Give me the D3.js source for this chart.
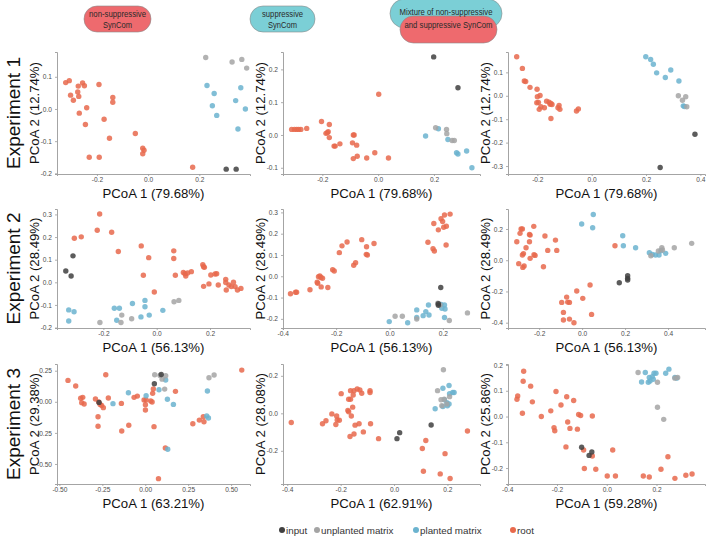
<!DOCTYPE html>
<html><head><meta charset="utf-8">
<script src="https://cdn.jsdelivr.net/npm/d3@7"></script>
<style>body{margin:0;background:#fff}svg{display:block;font-family:"Liberation Sans",Arial,sans-serif}</style>
</head><body>
<svg id="chart" width="706" height="541"></svg>
<script>
// ---------- categories / labels ----------
const groups = ["input", "unplanted matrix", "planted matrix", "root"];
const groupColors = ["#404040", "#a4a4a4", "#6bb3cf", "#e8694c"];
const experiments = ["Experiment 1", "Experiment 2", "Experiment 3"];
const xTitles = [
  ["PCoA 1 (79.68%)", "PCoA 1 (79.68%)", "PCoA 1 (79.68%)"],
  ["PCoA 1 (56.13%)", "PCoA 1 (56.13%)", "PCoA 1 (56.13%)"],
  ["PCoA 1 (63.21%)", "PCoA 1 (62.91%)", "PCoA 1 (59.28%)"]
];
const yTitles = [
  ["PCoA 2 (12.74%)", "PCoA 2 (12.74%)", "PCoA 2 (12.74%)"],
  ["PCoA 2 (28.49%)", "PCoA 2 (28.49%)", "PCoA 2 (28.49%)"],
  ["PCoA 2 (29.38%)", "PCoA 2 (28.08%)", "PCoA 2 (25.86%)"]
];

// ---------- tick labels / axis extents ----------
const xTicksA = [-0.2, 0, 0.2], yTicksA = [-0.2, -0.1, 0, 0.1];
const xTicksB = [-0.2, 0, 0.2], yTicksB = [-0.1, 0, 0.1, 0.2];
const xTicksC = [-0.2, 0, 0.2, 0.4], yTicksC = [-0.3, -0.2, -0.1, 0, 0.1];
const xTicksD = [-0.2, 0, 0.2], yTicksD = [-0.2, -0.1, 0, 0.1, 0.2, 0.3];
const xTicksE = [-0.4, -0.2, 0, 0.2], yTicksE = [-0.2, -0.1, 0, 0.1, 0.2, 0.3];
const xTicksF = [-0.2, 0, 0.2, 0.4], yTicksF = [-0.4, -0.2, 0, 0.2];
const xTicksG = [-0.5, -0.25, 0, 0.25, 0.5], yTicksG = [-0.5, -0.25, 0, 0.25];
const xTicksH = [-0.4, -0.2, 0, 0.2], yTicksH = [-0.2, 0, 0.2];
const xTicksI = [-0.4, -0.2, 0, 0.2], yTicksI = [-0.2, -0.1, 0, 0.1, 0.2];

const xDomA = [-0.356, 0.398], yDomA = [-0.202, 0.177];
const xDomB = [-0.341, 0.365], yDomB = [-0.119, 0.253];
const xDomC = [-0.308, 0.417], yDomC = [-0.334, 0.187];
const xDomD = [-0.374, 0.350], yDomD = [-0.202, 0.324];
const xDomE = [-0.399, 0.339], yDomE = [-0.243, 0.316];
const xDomF = [-0.345, 0.572], yDomF = [-0.434, 0.328];
const xDomG = [-0.514, 0.610], yDomG = [-0.661, 0.304];
const xDomH = [-0.416, 0.322], yDomH = [-0.377, 0.263];
const xDomI = [-0.397, 0.395], yDomI = [-0.262, 0.204];

// ---------- data: Experiment 1 ----------
const rootA = [[-0.322,0.082],[-0.308,0.088],[-0.303,0.043],[-0.292,0.027],[-0.273,0.071],[-0.275,0.053],[-0.271,0.039],[-0.256,0.081],[-0.249,0.072],[-0.269,-0.013],[-0.240,0.004],[-0.245,-0.048],[-0.192,0.076],[-0.172,-0.032],[-0.138,0.036],[-0.138,0.021],[-0.151,-0.091],[-0.230,-0.150],[-0.191,-0.150],[-0.050,-0.076],[-0.021,-0.122],[-0.016,-0.128],[-0.021,-0.139],[0.174,-0.181]];
const plantedA = [[0.230,0.073],[0.258,0.048],[0.251,0.010],[0.268,-0.020],[0.362,0.066],[0.342,0.026],[0.380,0.000],[0.351,-0.062]];
const unplantedA = [[0.225,0.160],[0.328,0.146],[0.366,0.154],[0.385,0.127]];
const inputA = [[0.305,-0.187],[0.344,-0.187]];

const rootB = [[-0.310,0.017],[-0.300,0.017],[-0.292,0.017],[-0.285,0.017],[-0.277,0.017],[-0.256,0.020],[-0.203,0.041],[-0.175,0.032],[-0.187,0.005],[-0.179,0.010],[-0.182,0.007],[-0.175,-0.008],[-0.158,-0.034],[-0.154,-0.034],[-0.137,-0.027],[-0.089,0.000],[-0.086,0.000],[-0.092,-0.024],[-0.077,-0.031],[-0.075,-0.065],[-0.089,-0.072],[-0.041,-0.070],[-0.012,-0.054],[0.002,0.124],[0.037,-0.070]];
const plantedB = [[0.170,-0.003],[0.216,0.019],[0.250,-0.014],[0.281,-0.054],[0.286,-0.058],[0.317,-0.049],[0.336,-0.100]];
const unplantedB = [[0.206,0.022],[0.245,0.017],[0.246,0.004],[0.265,-0.017],[0.273,-0.017]];
const inputB = [[0.199,0.238],[0.286,0.144]];

const rootC = [[-0.276,0.167],[-0.255,0.117],[-0.248,0.063],[-0.243,0.061],[-0.227,0.036],[-0.201,0.028],[-0.190,0.001],[-0.200,-0.004],[-0.196,-0.028],[-0.202,-0.030],[-0.187,-0.047],[-0.193,-0.058],[-0.174,-0.051],[-0.166,-0.023],[-0.157,-0.027],[-0.153,-0.036],[-0.150,-0.033],[-0.146,-0.037],[-0.120,-0.041],[-0.124,-0.051],[-0.117,-0.058],[-0.150,-0.097],[-0.056,-0.065],[-0.049,-0.056]];
const plantedC = [[0.199,0.167],[0.217,0.155],[0.227,0.135],[0.239,0.098],[0.271,0.078],[0.291,0.110],[0.321,0.063],[0.337,-0.043],[0.341,-0.046]];
const unplantedC = [[0.319,0.000],[0.334,-0.019],[0.346,-0.004],[0.350,-0.047]];
const inputC = [[0.252,-0.306],[0.380,-0.164]];

// ---------- data: Experiment 2 ----------
const rootD = [[-0.214,0.302],[-0.223,0.230],[-0.169,0.221],[-0.283,0.201],[-0.309,0.195],[-0.144,0.136],[-0.058,0.161],[-0.030,0.109],[-0.050,0.031],[0.064,0.139],[0.064,0.105],[0.070,0.031],[-0.009,-0.043],[0.100,0.043],[0.106,0.038],[0.109,0.028],[0.116,0.041],[0.130,0.047],[0.173,0.078],[0.176,0.069],[0.179,0.066],[0.203,0.032],[0.219,0.037],[0.225,0.038],[0.176,-0.018],[0.196,-0.007],[0.231,-0.012],[0.259,0.013],[0.259,-0.001],[0.261,-0.034],[0.271,-0.012],[0.280,-0.019],[0.288,0.000],[0.294,-0.019],[0.303,-0.034],[0.316,-0.027]];
const plantedD = [[-0.330,-0.122],[-0.310,-0.130],[-0.330,-0.171],[-0.159,-0.115],[-0.140,-0.115],[-0.150,-0.168],[-0.091,-0.094],[-0.044,-0.080],[-0.044,-0.108],[-0.059,-0.153],[-0.028,-0.145],[0.023,-0.124]];
const unplantedD = [[-0.213,-0.178],[-0.131,-0.145],[-0.134,-0.178],[-0.094,-0.161],[0.065,-0.086],[0.083,-0.080]];
const inputD = [[-0.314,0.117],[-0.341,0.050],[-0.321,0.028]];

const rootE = [[-0.371,-0.082],[-0.352,-0.075],[-0.348,-0.075],[-0.298,-0.063],[-0.269,-0.033],[-0.266,-0.002],[-0.261,0.002],[-0.257,-0.006],[-0.251,-0.009],[-0.271,-0.028],[-0.256,-0.050],[-0.231,-0.053],[-0.213,0.031],[-0.207,0.025],[-0.188,0.111],[-0.178,0.143],[-0.159,0.161],[-0.134,0.052],[-0.127,0.064],[-0.104,0.172],[-0.086,0.139],[-0.087,0.103],[-0.083,0.100],[-0.058,0.154],[0.166,0.248],[0.183,0.218],[0.193,0.270],[0.199,0.257],[0.203,0.230],[0.206,0.288],[0.213,0.235],[0.227,0.292],[0.144,0.160],[0.163,0.129],[0.168,0.119],[0.212,0.147]];
const plantedE = [[-0.001,-0.213],[0.068,-0.218],[0.102,-0.158],[0.102,-0.194],[0.126,-0.185],[0.136,-0.166],[0.146,-0.135],[0.148,-0.182],[0.193,-0.132],[0.206,-0.135],[0.196,-0.150],[0.208,-0.154],[0.206,-0.194]];
const unplantedE = [[0.021,-0.188],[0.048,-0.188],[0.102,-0.201],[0.181,-0.127],[0.189,-0.135],[0.224,-0.208],[0.292,-0.172]];
const inputE = [[0.192,-0.053],[0.183,-0.129],[0.183,-0.136]];

const rootF = [[-0.225,0.217],[-0.284,0.200],[-0.278,0.200],[-0.289,0.172],[-0.304,0.118],[-0.245,0.165],[-0.242,0.161],[-0.261,0.080],[-0.273,0.042],[-0.278,0.033],[-0.295,-0.022],[-0.270,-0.037],[-0.276,-0.046],[-0.242,0.012],[-0.224,0.035],[-0.219,0.031],[-0.173,0.155],[-0.160,0.063],[-0.124,0.129],[-0.118,0.063],[-0.180,-0.042],[-0.245,0.118],[0.153,0.093],[-0.025,-0.197],[0.037,-0.159],[0.003,-0.244],[-0.072,-0.236],[-0.067,-0.268],[-0.095,-0.270],[-0.059,-0.270],[-0.087,-0.334],[-0.087,-0.383],[-0.059,-0.377],[-0.038,-0.400],[0.044,-0.347]];
const plantedF = [[-0.002,0.232],[0.052,0.293],[0.049,0.208],[0.189,0.157],[0.192,0.093],[0.249,0.080],[0.313,0.048],[0.327,0.037],[0.342,0.033],[0.358,0.033],[0.367,0.061],[0.389,0.044]];
const unplantedF = [[0.320,0.029],[0.355,0.059],[0.371,0.080],[0.374,0.065],[0.429,0.080],[0.510,0.108]];
const inputF = [[0.212,-0.099],[0.212,-0.116],[0.212,-0.127],[0.173,-0.144]];

// ---------- data: Experiment 3 ----------
const rootG = [[-0.450,0.172],[-0.405,0.127],[-0.376,0.028],[-0.364,0.036],[-0.370,-0.007],[-0.356,-0.018],[-0.290,0.022],[-0.271,-0.002],[-0.263,-0.021],[-0.254,-0.029],[-0.244,-0.047],[-0.275,-0.120],[-0.275,-0.197],[-0.230,0.218],[-0.215,0.030],[-0.139,-0.013],[-0.137,-0.235],[-0.096,-0.189],[-0.065,0.036],[-0.046,0.046],[-0.007,0.014],[0.005,0.014],[0.001,-0.023],[0.001,-0.066],[0.032,0.006],[0.040,-0.002],[0.043,0.068],[0.047,0.103],[0.051,-0.200],[0.176,0.084],[0.117,-0.372],[0.077,-0.618],[0.277,-0.176],[0.315,-0.147],[0.338,-0.120],[0.342,-0.160],[0.562,0.255]];
const plantedG = [[-0.188,-0.015],[-0.098,0.073],[0.005,0.049],[0.080,0.097],[0.119,0.175],[0.129,0.020],[0.164,-0.021],[0.131,-0.382],[0.358,-0.114],[0.368,-0.130],[0.362,0.087]];
const unplantedG = [[0.055,0.218],[0.086,0.212],[0.119,0.209],[0.098,0.182],[0.113,0.102],[0.371,0.194],[0.401,0.215]];
const inputG = [[0.093,0.220],[0.053,0.145],[-0.269,-0.005]];

const rootH = [[-0.385,-0.049],[-0.268,-0.056],[-0.255,-0.040],[-0.233,-0.003],[-0.215,-0.014],[-0.213,-0.035],[-0.205,-0.037],[-0.218,-0.060],[-0.198,0.105],[-0.163,0.121],[-0.163,0.075],[-0.170,0.075],[-0.153,0.098],[-0.150,0.121],[-0.138,0.130],[-0.128,0.125],[-0.121,0.107],[-0.173,0.015],[-0.170,0.008],[-0.160,-0.014],[-0.155,0.033],[-0.165,-0.124],[-0.150,-0.110],[-0.146,-0.063],[-0.131,-0.056],[-0.115,-0.099],[-0.090,0.120],[-0.090,0.111],[-0.088,-0.056],[-0.058,-0.135],[0.119,-0.145],[0.106,-0.188],[0.110,-0.309],[0.173,-0.323],[0.191,-0.215],[0.210,-0.348],[0.275,-0.094]];
const plantedH = [[0.154,0.024],[0.183,0.134],[0.206,0.148],[0.208,0.104],[0.220,0.111],[0.225,0.111],[0.198,0.057],[0.200,0.040],[0.183,0.036],[0.206,0.050],[0.189,0.072]];
const unplantedH = [[0.185,0.232],[0.163,0.121],[0.176,0.072],[0.188,0.075],[0.208,0.089],[0.179,0.041],[0.198,0.050]];
const inputH = [[0.021,-0.103],[0.011,-0.135],[0.139,-0.062]];

const rootI = [[-0.334,0.176],[-0.336,0.137],[-0.306,0.118],[-0.358,0.080],[-0.361,0.067],[-0.299,0.057],[-0.339,0.013],[-0.263,0.000],[-0.225,0.022],[-0.204,0.097],[-0.184,0.045],[-0.161,0.077],[-0.133,0.062],[-0.157,-0.021],[-0.148,-0.046],[-0.113,0.008],[-0.105,0.004],[-0.118,-0.049],[-0.058,0.002],[-0.212,-0.043],[-0.209,-0.055],[-0.164,-0.118],[-0.093,-0.130],[-0.090,-0.202],[-0.044,-0.205],[0.024,-0.130],[0.002,-0.231],[0.035,-0.231],[0.147,-0.231],[0.171,-0.235],[0.218,-0.205],[0.246,-0.156],[0.274,-0.240],[0.318,-0.228],[0.343,-0.223],[-0.058,-0.153]];
const plantedI = [[0.155,0.171],[0.140,0.134],[0.171,0.152],[0.174,0.138],[0.183,0.155],[0.190,0.168],[0.187,0.145],[0.198,0.168],[0.167,0.133],[0.237,0.168],[0.250,0.184],[0.274,0.152],[0.281,0.149]];
const unplantedI = [[0.126,0.171],[0.204,0.133],[0.274,0.149],[0.285,0.152],[0.204,0.036],[0.229,-0.011]];
const inputI = [[-0.101,-0.119],[-0.071,-0.151],[-0.060,-0.138]];

// ---------- layout ----------
const colX = [[57, 250], [283, 480], [508, 705]];
const rowY = [[52, 174], [209, 328], [364, 484]];

const panels = [
  {r:0,c:0,xd:xDomA,yd:yDomA,xt:xTicksA,yt:yTicksA,fmt:".1f",sets:[rootA,plantedA,unplantedA,inputA]},
  {r:0,c:1,xd:xDomB,yd:yDomB,xt:xTicksB,yt:yTicksB,fmt:".1f",sets:[rootB,plantedB,unplantedB,inputB]},
  {r:0,c:2,xd:xDomC,yd:yDomC,xt:xTicksC,yt:yTicksC,fmt:".1f",sets:[rootC,plantedC,unplantedC,inputC]},
  {r:1,c:0,xd:xDomD,yd:yDomD,xt:xTicksD,yt:yTicksD,fmt:".1f",sets:[rootD,plantedD,unplantedD,inputD]},
  {r:1,c:1,xd:xDomE,yd:yDomE,xt:xTicksE,yt:yTicksE,fmt:".1f",sets:[rootE,plantedE,unplantedE,inputE]},
  {r:1,c:2,xd:xDomF,yd:yDomF,xt:xTicksF,yt:yTicksF,fmt:".1f",sets:[rootF,plantedF,unplantedF,inputF]},
  {r:2,c:0,xd:xDomG,yd:yDomG,xt:xTicksG,yt:yTicksG,fmt:".2f",sets:[rootG,plantedG,unplantedG,inputG]},
  {r:2,c:1,xd:xDomH,yd:yDomH,xt:xTicksH,yt:yTicksH,fmt:".1f",sets:[rootH,plantedH,unplantedH,inputH]},
  {r:2,c:2,xd:xDomI,yd:yDomI,xt:xTicksI,yt:yTicksI,fmt:".1f",sets:[rootI,plantedI,unplantedI,inputI]}
];
// sets order: root, planted, unplanted, input -> colour index
const setColor = [groupColors[3], groupColors[2], groupColors[1], groupColors[0]];

const svg = d3.select("#chart");
const axisCol = "#9a9a9a", tickTxt = "#4d4d4d";

panels.forEach(p => {
  const [x0, x1] = colX[p.c], [y0, y1] = rowY[p.r];
  const x = d3.scaleLinear().domain(p.xd).range([x0, x1]);
  const y = d3.scaleLinear().domain(p.yd).range([y1, y0]);
  const g = svg.append("g");
  const f = d3.format(p.fmt);

  const xa = g.append("g").attr("transform", `translate(0,${y1})`)
    .call(d3.axisBottom(x).tickValues(p.xt).tickSize(2).tickPadding(1.5).tickFormat(v => f(v).replace("−","-")));
  const ya = g.append("g").attr("transform", `translate(${x0},0)`)
    .call(d3.axisLeft(y).tickValues(p.yt).tickSize(2).tickPadding(3).tickFormat(v => f(v).replace("−","-")));
  [xa, ya].forEach(a => {
    a.select(".domain").attr("stroke", axisCol).attr("stroke-width", 0.9);
    a.selectAll(".tick line").attr("stroke", axisCol).attr("stroke-width", 0.8);
    a.selectAll(".tick text").attr("fill", tickTxt).attr("font-size", 6.6)
      .attr("font-family", "Liberation Sans, Arial, sans-serif");
  });

  p.sets.forEach((arr, i) => {
    g.append("g").selectAll("circle").data(arr).join("circle")
      .attr("cx", d => x(d[0])).attr("cy", d => y(d[1])).attr("r", 2.7)
      .attr("fill", setColor[i]).attr("fill-opacity", 0.85);
  });

  g.append("text").attr("x", (x0 + x1) / 2).attr("y", y1 + 24)
    .attr("text-anchor", "middle").attr("font-size", 13.2).attr("fill", "#111")
    .text(xTitles[p.r][p.c]);
  g.append("text").attr("transform", `translate(${x0 - 18},${(y0 + y1) / 2}) rotate(-90)`)
    .attr("text-anchor", "middle").attr("font-size", 13.2).attr("fill", "#111")
    .text(yTitles[p.r][p.c]);
});

// experiment labels
experiments.forEach((t, i) => {
  const [y0, y1] = rowY[i];
  svg.append("text").attr("transform", `translate(20,${(y0 + y1) / 2}) rotate(-90)`)
    .attr("text-anchor", "middle").attr("font-size", 19).attr("fill", "#111").text(t);
});

// header pills
const pillRed = "#ee6a6e", pillTeal = "#7bcfd6", pillStroke = "#8a8a8a";
const headers = [
  {x:84, y:6, w:67, h:26, fill:pillRed, lines:[["non-suppressive",14,57],["SynCom",25,29]]},
  {x:250, y:6, w:65, h:26, fill:pillTeal, lines:[["suppressive",14,41],["SynCom",25,29]]},
  {x:390, y:-1, w:112, h:29, fill:pillTeal, lines:[["Mixture of non-suppressive",12,93]]},
  {x:400, y:16, w:97, h:27, fill:pillRed, lines:[["and suppressive SynCom",25,88]]}
];
headers.forEach(h => {
  svg.append("rect").attr("x", h.x).attr("y", h.y).attr("width", h.w).attr("height", h.h)
    .attr("rx", h.h / 2).attr("fill", h.fill).attr("stroke", pillStroke).attr("stroke-width", 0.6);
});
headers.forEach(h => {
  h.lines.forEach(([t, cy, w]) => {
    svg.append("text").attr("x", h.x + h.w / 2).attr("y", cy + 3.4).attr("text-anchor", "middle")
      .attr("font-size", 9.8).attr("fill", "#2a2a2a")
      .attr("textLength", w).attr("lengthAdjust", "spacingAndGlyphs").text(t);
  });
});

// legend
const legendX = [282, 317, 416, 513];
groups.forEach((gname, i) => {
  svg.append("circle").attr("cx", legendX[i]).attr("cy", 530).attr("r", 3).attr("fill", groupColors[i]);
  svg.append("text").attr("x", legendX[i] + 4).attr("y", 533.5).attr("font-size", 9.8)
    .attr("fill", "#333").text(gname);
});
</script>
</body></html>
